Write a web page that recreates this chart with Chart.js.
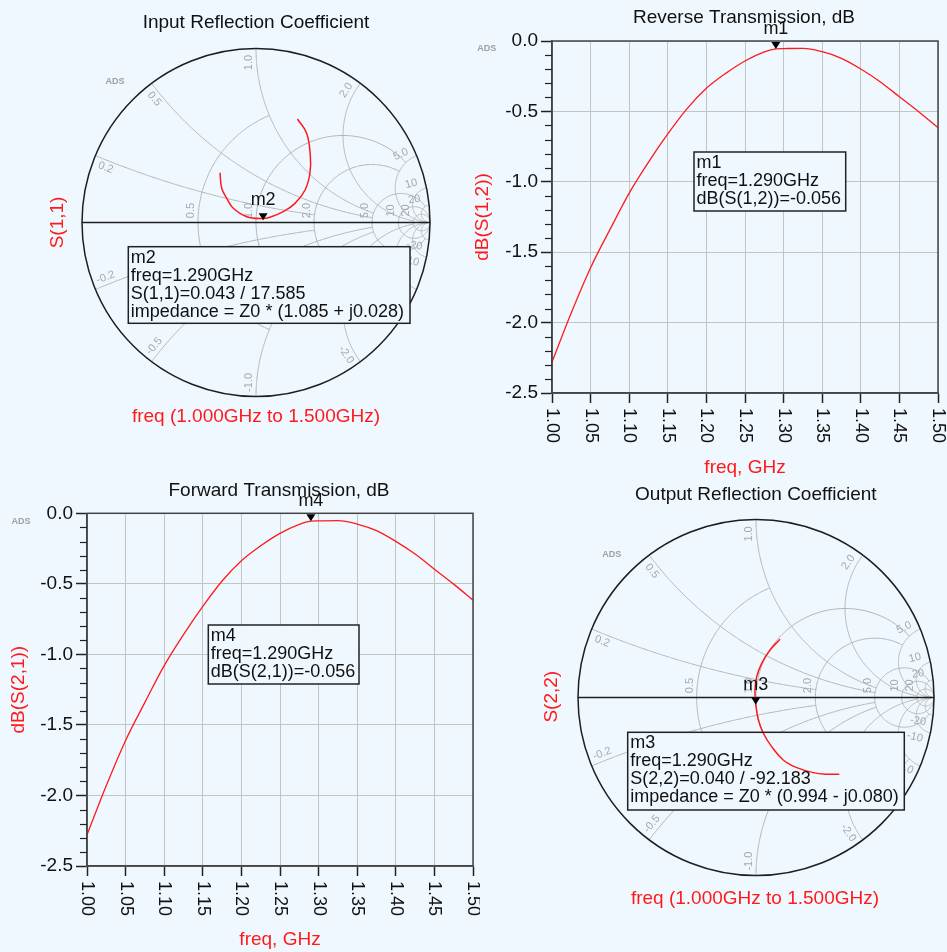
<!DOCTYPE html>
<html>
<head>
<meta charset="utf-8">
<script src="https://cdn.jsdelivr.net/npm/chart.js@4.4.1/dist/chart.umd.min.js"></script>
<style>
body { margin:0; background:#f0f8ff; width:947px; height:952px; overflow:hidden; position:relative; }
canvas { position:absolute; }
</style>
</head>
<body>
<canvas id="s11" width="470" height="470" style="left:0;top:0"></canvas>
<canvas id="s12" width="477" height="480" style="left:470px;top:0"></canvas>
<canvas id="s21" width="480" height="482" style="left:0;top:470px"></canvas>
<canvas id="s22" width="467" height="482" style="left:480px;top:470px"></canvas>
<script>
// sweep, GHz
const freqGHz = [1.000,1.025,1.050,1.075,1.100,1.125,1.150,1.175,1.200,1.225,1.250,1.275,1.290,1.300,1.325,1.350,1.375,1.400,1.425,1.450,1.475,1.500];
// dB(S(1,2)) and dB(S(2,1))
const s12dB = [-2.28,-1.93,-1.61,-1.34,-1.08,-0.86,-0.66,-0.48,-0.336,-0.23,-0.142,-0.078,-0.056,-0.054,-0.052,-0.076,-0.123,-0.199,-0.289,-0.396,-0.502,-0.616];
const s21dB = [-2.28,-1.93,-1.61,-1.34,-1.08,-0.86,-0.66,-0.48,-0.336,-0.23,-0.142,-0.078,-0.056,-0.054,-0.052,-0.076,-0.123,-0.199,-0.289,-0.396,-0.502,-0.616];
// reflection coefficients (real / imag), 1.0 GHz -> 1.5 GHz
const s11Re = [0.238,0.291,0.312,0.310,0.282,0.224,0.157,0.080,0.039,-0.053,-0.132,-0.168,-0.197,-0.207];
const s11Im = [0.595,0.513,0.388,0.283,0.187,0.110,0.062,0.030,0.023,0.033,0.083,0.139,0.197,0.286];
const s22Re = [0.468,0.397,0.322,0.229,0.153,0.088,0.041,0.013,-0.002,-0.006,0.004,0.032,0.079,0.135];
const s22Im = [-0.431,-0.431,-0.422,-0.394,-0.351,-0.276,-0.201,-0.126,-0.033,0.042,0.117,0.192,0.267,0.327];

// axis ticks
const freqMin = 1.0, freqMax = 1.5, freqStep = 0.05;
const dbMin = -2.5, dbMax = 0, dbStep = 0.5, dbMinor = 0.1;

// smith grid: resistance circles / reactance arcs and where each one stops
const smithR = [0.5, 1, 2, 5, 10, 20];
const smithRStop = [1, 5, 5, 20, Infinity, Infinity];
const smithX = [0.2, 0.5, 1, 2, 5, 10, 20];
const smithXStop = [2, 5, 5, 20, Infinity, Infinity, Infinity];

// markers
const m1 = {name:'m1', freq:1.290, db:-0.056};
const m4 = {name:'m4', freq:1.290, db:-0.056};
const m2 = {name:'m2', freq:1.290, mag:0.043, ang:17.585, zr:1.085, zx:0.028};
const m3 = {name:'m3', freq:1.290, mag:0.040, ang:-92.183, zr:0.994, zx:-0.080};

const BG = '#f0f8ff';
const FONT = '"Liberation Sans", Arial, sans-serif';
const RED = '#ff1a1a';

function tri(ctx, x, y) {
	ctx.beginPath();
	ctx.moveTo(x - 4.5, y - 7);
	ctx.lineTo(x + 4.5, y - 7);
	ctx.lineTo(x, y);
	ctx.closePath();
	ctx.fillStyle = '#000';
	ctx.fill();
}

function boxText(ctx, b, lines) {
	ctx.strokeStyle = '#222';
	ctx.lineWidth = 1.5;
	ctx.strokeRect(b[0], b[1], b[2], b[3]);
	ctx.font = '18px ' + FONT;
	ctx.fillStyle = '#111';
	ctx.textAlign = 'left';
	ctx.textBaseline = 'middle';
	lines.forEach((s, i) => ctx.fillText(s, b[0] + 2.5, b[1] + 11 + 18 * i));
}

function small(ctx, t, x, y, rot, font, color) {
	ctx.save();
	ctx.translate(x, y);
	ctx.rotate(rot);
	ctx.font = font;
	ctx.fillStyle = color;
	ctx.textAlign = 'center';
	ctx.textBaseline = 'middle';
	ctx.fillText(t, 0, 0);
	ctx.restore();
}

const dbDecor = {
	id: 'dbDecor',
	beforeDatasetsDraw(chart, args, o) {
		const ctx = chart.ctx;
		ctx.save();
		ctx.fillStyle = BG;
		ctx.fillRect(o.box[0], o.box[1], o.box[2], o.box[3]);
		ctx.restore();
	},
	afterDatasetsDraw(chart, args, o) {
		const {ctx, chartArea: a, scales: {x, y}} = chart;
		ctx.save();
		ctx.strokeStyle = '#444';
		ctx.lineWidth = 1.5;
		ctx.strokeRect(a.left, a.top, a.right - a.left, a.bottom - a.top);
		// minor ticks on the dB axis
		ctx.lineWidth = 1.2;
		ctx.strokeStyle = '#222';
		const n = Math.round((dbMax - dbMin) / dbMinor);
		for (let i = 0; i <= n; i++) {
			const v = dbMin + i * dbMinor;
			if (Math.abs(v / dbStep - Math.round(v / dbStep)) < 1e-6) continue;
			const py = Math.round(y.getPixelForValue(v)) + 0.5;
			ctx.beginPath();
			ctx.moveTo(a.left - 7, py);
			ctx.lineTo(a.left, py);
			ctx.stroke();
		}
		// freq tick labels, turned
		ctx.font = '18px ' + FONT;
		ctx.fillStyle = '#111';
		ctx.textAlign = 'left';
		ctx.textBaseline = 'middle';
		x.ticks.forEach(t => {
			ctx.save();
			ctx.translate(x.getPixelForValue(t.value), a.bottom + 15);
			ctx.rotate(Math.PI / 2);
			ctx.fillText(t.value.toFixed(2), 0, 0);
			ctx.restore();
		});
		// marker
		const m = o.marker;
		const mx = x.getPixelForValue(m.freq), my = y.getPixelForValue(m.db);
		tri(ctx, mx, my);
		small(ctx, m.name, mx, my - 20, 0, '18px ' + FONT, '#111');
		boxText(ctx, o.box, [m.name, 'freq=' + m.freq.toFixed(3) + 'GHz', o.label + '=' + m.db.toFixed(3)]);
		small(ctx, o.title, o.titleAt[0], o.titleAt[1], 0, '19px ' + FONT, '#111');
		small(ctx, 'ADS', o.adsAt[0], o.adsAt[1], 0, 'bold 9px ' + FONT, '#a0a0a0');
		ctx.restore();
	}
};

function zToG(r, x) {
	const d = (r + 1) * (r + 1) + x * x;
	return [(r * r + x * x - 1) / d, 2 * x / d];
}

const smithDecor = {
	id: 'smithDecor',
	beforeDatasetsDraw(chart, args, o) {
		const {ctx, scales: {x, y}} = chart;
		const P = (re, im) => [x.getPixelForValue(re), y.getPixelForValue(im)];
		const poly = pts => {
			ctx.beginPath();
			pts.forEach((p, i) => { const q = P(p[0], p[1]); i ? ctx.lineTo(q[0], q[1]) : ctx.moveTo(q[0], q[1]); });
			ctx.stroke();
		};
		ctx.save();
		ctx.strokeStyle = '#b4b4b4';
		ctx.lineWidth = 1;
		// resistance circles
		smithR.forEach((r, k) => {
			const c = r / (r + 1), R = 1 / (r + 1);
			let a0 = 0;
			if (isFinite(smithRStop[k])) {
				const g = zToG(r, smithRStop[k]);
				a0 = Math.atan2(g[1], g[0] - c);
			}
			const pts = [];
			for (let i = 0; i <= 200; i++) {
				const t = a0 + (2 * Math.PI - 2 * a0) * i / 200;
				pts.push([c + R * Math.cos(t), R * Math.sin(t)]);
			}
			poly(pts);
		});
		// reactance arcs
		smithX.forEach((xv, k) => {
			[1, -1].forEach(sg => {
				const xx = xv * sg, cy = 1 / xx, R = 1 / xv;
				const g0 = zToG(0, xx);
				const g1 = isFinite(smithXStop[k]) ? zToG(smithXStop[k], xx) : [1, 0];
				const a0 = Math.atan2(g0[1] - cy, g0[0] - 1);
				let a1 = Math.atan2(g1[1] - cy, g1[0] - 1);
				if (sg > 0) { while (a1 < a0) a1 += 2 * Math.PI; }
				else { while (a1 > a0) a1 -= 2 * Math.PI; }
				const pts = [];
				for (let i = 0; i <= 200; i++) {
					const t = a0 + (a1 - a0) * i / 200;
					pts.push([1 + R * Math.cos(t), cy + R * Math.sin(t)]);
				}
				poly(pts);
			});
		});
		// grid labels
		const lf = '11px ' + FONT, lc = '#a8a8a8';
		smithR.forEach(r => {
			const p = P((r - 1) / (r + 1), 0);
			small(ctx, r < 10 ? r.toFixed(1) : String(r), p[0] - 7, p[1] - 12, -Math.PI / 2, lf, lc);
		});
		smithX.forEach(xv => {
			[1, -1].forEach(sg => {
				const g0 = zToG(0, xv * sg);
				const phi = Math.atan2(g0[1], g0[0]) + sg * 0.045;
				const p = P(0.92 * Math.cos(phi), 0.92 * Math.sin(phi));
				let dx = Math.cos(phi), dy = -Math.sin(phi);
				if (Math.abs(dx) < 0.05) { dx = 0; dy = -1; }
				else if (dx < 0) { dx = -dx; dy = -dy; }
				const txt = (sg < 0 ? '-' : '') + (xv < 10 ? xv.toFixed(1) : String(xv));
				small(ctx, txt, p[0], p[1], Math.atan2(dy, dx), lf, lc);
			});
		});
		// unit circle and real axis
		const o0 = P(0, 0), rad = x.getPixelForValue(1) - o0[0];
		ctx.strokeStyle = '#1e1e1e';
		ctx.lineWidth = 1.5;
		ctx.beginPath();
		ctx.arc(o0[0], o0[1], rad, 0, 2 * Math.PI);
		ctx.stroke();
		ctx.beginPath();
		ctx.moveTo(o0[0] - rad, o0[1]);
		ctx.lineTo(o0[0] + rad, o0[1]);
		ctx.stroke();
		// marker box background
		ctx.fillStyle = BG;
		ctx.fillRect(o.box[0], o.box[1], o.box[2], o.box[3]);
		ctx.restore();
	},
	afterDatasetsDraw(chart, args, o) {
		const {ctx, scales: {x, y}} = chart;
		const m = o.marker;
		const re = m.mag * Math.cos(m.ang * Math.PI / 180), im = m.mag * Math.sin(m.ang * Math.PI / 180);
		const mx = x.getPixelForValue(re), my = y.getPixelForValue(im);
		ctx.save();
		tri(ctx, mx, my);
		small(ctx, m.name, mx, my - 20, 0, '18px ' + FONT, '#111');
		const sgn = m.zx < 0 ? ' - j' : ' + j';
		boxText(ctx, o.box, [m.name, 'freq=' + m.freq.toFixed(3) + 'GHz',
			o.label + '=' + m.mag.toFixed(3) + ' / ' + m.ang.toFixed(3),
			'impedance = Z0 * (' + m.zr.toFixed(3) + sgn + Math.abs(m.zx).toFixed(3) + ')']);
		small(ctx, o.title, o.titleAt[0], o.titleAt[1], 0, '19px ' + FONT, '#111');
		small(ctx, o.label, o.labelAt[0], o.labelAt[1], -Math.PI / 2, '19px ' + FONT, RED);
		small(ctx, 'freq (' + freqMin.toFixed(3) + 'GHz to ' + freqMax.toFixed(3) + 'GHz)', o.sweepAt[0], o.sweepAt[1], 0, '19px ' + FONT, RED);
		small(ctx, 'ADS', o.adsAt[0], o.adsAt[1], 0, 'bold 9px ' + FONT, '#a0a0a0');
		ctx.restore();
	}
};

function dbChart(id, values, label, marker, opts) {
	return new Chart(id, {
		type: 'scatter',
		data: {
			datasets: [{
				data: freqGHz.map((f, i) => ({x: f, y: values[i]})),
				showLine: true,
				borderColor: RED,
				borderWidth: 1.3,
				pointRadius: 0,
				tension: 0.4,
				cubicInterpolationMode: 'monotone'
			}]
		},
		options: {
			responsive: false,
			animation: false,
			layout: { padding: opts.padding },
			scales: {
				x: {
					type: 'linear', min: freqMin, max: freqMax,
					afterFit: s => { s.height = opts.xh; },
					ticks: { display: false, stepSize: freqStep },
					grid: { color: '#c4c4c4', lineWidth: 1, tickLength: 10, tickColor: '#222', tickWidth: 1.5 },
					border: { color: '#444', width: 1.5 },
					title: { display: true, text: 'freq, GHz', color: RED, font: { family: FONT, size: 19 }, padding: { top: 0, bottom: 1 } }
				},
				y: {
					min: dbMin, max: dbMax,
					afterFit: s => { s.width = opts.yw; },
					ticks: { stepSize: dbStep, color: '#111', padding: 3, font: { family: FONT, size: 19 },
						callback: v => v.toFixed(1) },
					grid: { color: '#c4c4c4', lineWidth: 1, tickLength: 11, tickColor: '#222', tickWidth: 1.5 },
					border: { color: '#444', width: 1.5 },
					title: { display: true, text: label, color: RED, font: { family: FONT, size: 19 }, padding: { top: opts.ytp, bottom: 0 } }
				}
			},
			plugins: {
				legend: { display: false },
				tooltip: { enabled: false },
				dbDecor: { marker: marker, label: label, box: opts.box, title: opts.title, titleAt: opts.titleAt, adsAt: opts.adsAt }
			}
		},
		plugins: [dbDecor]
	});
}

function smithChart(id, re, im, label, marker, opts) {
	return new Chart(id, {
		type: 'scatter',
		data: {
			datasets: [{
				data: re.map((r, i) => ({x: r, y: im[i]})),
				showLine: true,
				borderColor: RED,
				borderWidth: 1.5,
				pointRadius: 0,
				tension: 0.4
			}]
		},
		options: {
			responsive: false,
			animation: false,
			layout: { padding: opts.padding },
			scales: {
				x: { type: 'linear', min: -1, max: 1, display: false },
				y: { type: 'linear', min: -1, max: 1, display: false }
			},
			plugins: {
				legend: { display: false },
				tooltip: { enabled: false },
				smithDecor: { marker: marker, label: label, box: opts.box, title: opts.title, titleAt: opts.titleAt,
					labelAt: opts.labelAt, sweepAt: opts.sweepAt, adsAt: opts.adsAt }
			}
		},
		plugins: [smithDecor]
	});
}

smithChart('s11', s11Re, s11Im, 'S(1,1)', m2, {
	padding: { left: 82, right: 40, top: 48.5, bottom: 73.5 },
	box: [128.3, 246.7, 281.7, 76.6],
	title: 'Input Reflection Coefficient', titleAt: [256, 23],
	labelAt: [57.5, 222.5], sweepAt: [256, 416.7], adsAt: [115, 82]
});

dbChart('s12', s12dB, 'dB(S(1,2))', m1, {
	padding: { left: 0, right: 9, top: 41, bottom: 0 },
	xh: 87, yw: 82, ytp: 1,
	box: [224, 152, 151.7, 59],
	title: 'Reverse Transmission, dB', titleAt: [274, 18], adsAt: [16.7, 49]
});

dbChart('s21', s21dB, 'dB(S(2,1))', m4, {
	padding: { left: 0, right: 7, top: 43.3, bottom: 0 },
	xh: 86, yw: 87, ytp: 7,
	box: [208.3, 155, 150.7, 59],
	title: 'Forward Transmission, dB', titleAt: [279, 20.7], adsAt: [21, 51.7]
});

smithChart('s22', s22Re, s22Im, 'S(2,2)', m3, {
	padding: { left: 98, right: 13, top: 49.5, bottom: 76.5 },
	box: [147.7, 262.3, 276.6, 77.7],
	title: 'Output Reflection Coefficient', titleAt: [275.8, 25],
	labelAt: [71.7, 226.7], sweepAt: [275, 428.3], adsAt: [131.7, 85]
});
</script>
</body>
</html>
